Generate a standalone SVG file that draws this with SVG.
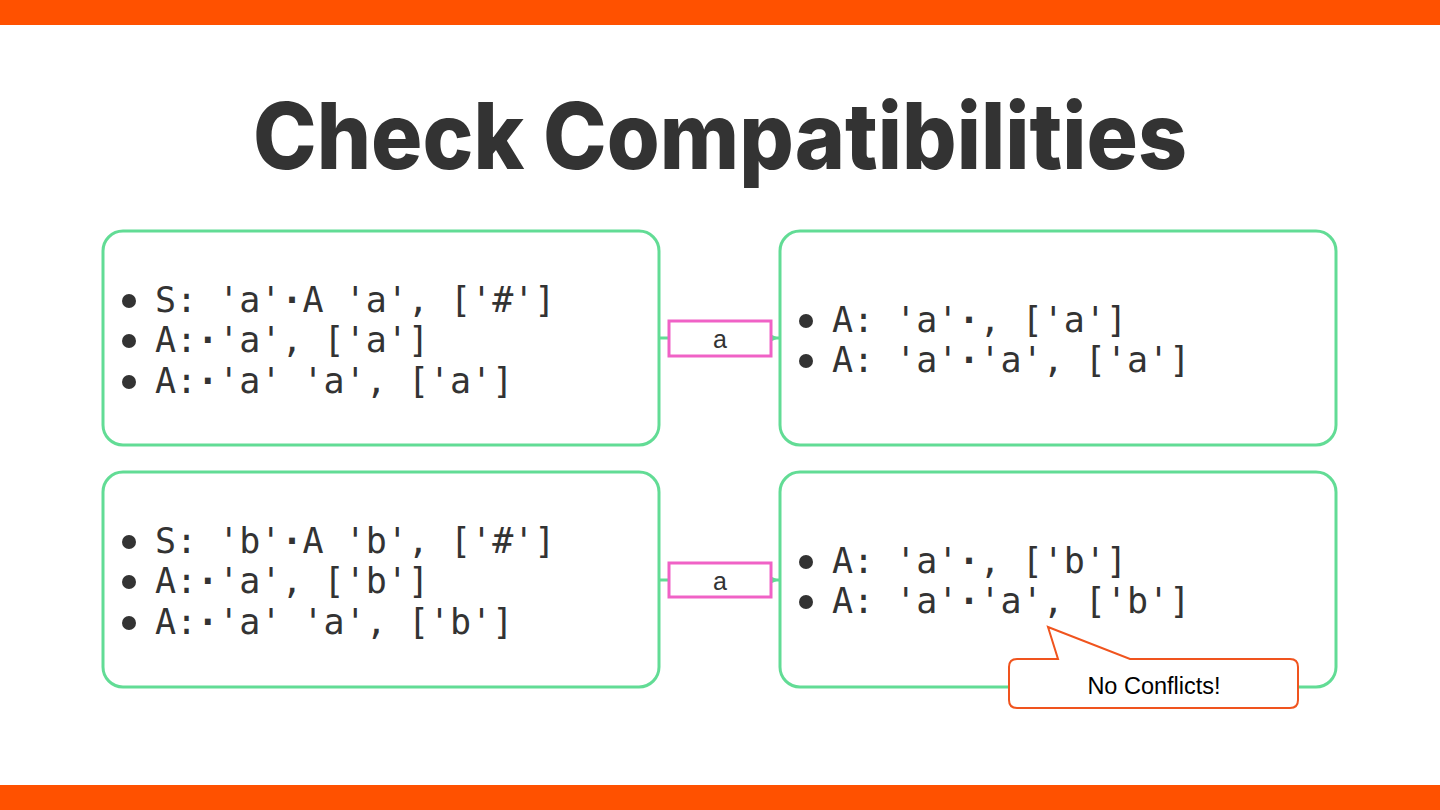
<svg xmlns="http://www.w3.org/2000/svg" width="1440" height="810" viewBox="0 0 1440 810">
<style>
.bar{fill:#ff5100}
.box{fill:#ffffff;stroke:#62dc95;stroke-width:3}
.code{font-family:"DejaVu Sans Mono","Liberation Mono",monospace;font-size:35px;fill:#333333}
.dot{font-weight:bold}
.bul{fill:#333333}
.edge{stroke:#62dc95;stroke-width:3;fill:none}
.lbl{fill:#ffffff;stroke:#f062c6;stroke-width:3}
.lbltxt{font-family:"Liberation Sans",Arial,sans-serif;font-size:25px;fill:#333333;text-anchor:middle}
.title{font-family:Inter,"Liberation Sans",sans-serif;font-weight:800;font-size:92px;fill:#333333;text-anchor:middle}
.call{fill:#ffffff;stroke:#f0541e;stroke-width:2}
.calltxt{font-family:"Liberation Sans",Arial,sans-serif;font-size:23.5px;fill:#000000;text-anchor:middle}
</style>
<defs>
<marker id="arr" markerWidth="8" markerHeight="8" refX="7" refY="4" orient="auto" markerUnits="userSpaceOnUse">
<path d="M0,1 L7,4 L0,7 Z" fill="#62dc95"/>
</marker>
</defs>
<rect class="bar" x="0" y="0" width="1440" height="25"/>
<rect class="bar" x="0" y="785" width="1440" height="25"/>
<text class="title" x="720" y="169" textLength="934" lengthAdjust="spacingAndGlyphs">Check Compatibilities</text>

<g id="connectors">
<line class="edge" x1="659" y1="338" x2="669" y2="338"/>
<line class="edge" x1="771" y1="338" x2="779" y2="338" marker-end="url(#arr)"/>
<line class="edge" x1="659" y1="580" x2="669" y2="580"/>
<line class="edge" x1="771" y1="580" x2="779" y2="580" marker-end="url(#arr)"/>
<g id="label-top">
<rect class="lbl" x="669" y="321" width="102" height="35"/>
<text class="lbltxt" x="720" y="348">a</text>
</g>
<g id="label-bottom">
<rect class="lbl" x="669" y="563" width="102" height="34"/>
<text class="lbltxt" x="720" y="590">a</text>
</g>
</g>

<g id="node-top-left">
<rect class="box" x="103" y="231" width="556" height="214" rx="20"/>
<circle class="bul" cx="129" cy="301" r="7"/>
<circle class="bul" cx="129" cy="341" r="7"/>
<circle class="bul" cx="129" cy="382" r="7"/>
<text class="code" x="155" y="312">S: 'a'<tspan class="dot">·</tspan>A 'a', ['#']</text>
<text class="code" x="155" y="352">A:<tspan class="dot">·</tspan>'a', ['a']</text>
<text class="code" x="155" y="393">A:<tspan class="dot">·</tspan>'a' 'a', ['a']</text>
</g>

<g id="node-top-right">
<rect class="box" x="780" y="231" width="556" height="214" rx="20"/>
<circle class="bul" cx="806" cy="321" r="7"/>
<circle class="bul" cx="806" cy="361" r="7"/>
<text class="code" x="832" y="332">A: 'a'<tspan class="dot">·</tspan>, ['a']</text>
<text class="code" x="832" y="372">A: 'a'<tspan class="dot">·</tspan>'a', ['a']</text>
</g>

<g id="node-bottom-left">
<rect class="box" x="103" y="472" width="556" height="215" rx="20"/>
<circle class="bul" cx="129" cy="542" r="7"/>
<circle class="bul" cx="129" cy="582" r="7"/>
<circle class="bul" cx="129" cy="623" r="7"/>
<text class="code" x="155" y="553">S: 'b'<tspan class="dot">·</tspan>A 'b', ['#']</text>
<text class="code" x="155" y="593">A:<tspan class="dot">·</tspan>'a', ['b']</text>
<text class="code" x="155" y="634">A:<tspan class="dot">·</tspan>'a' 'a', ['b']</text>
</g>

<g id="node-bottom-right">
<rect class="box" x="780" y="472" width="556" height="215" rx="20"/>
<circle class="bul" cx="806" cy="562" r="7"/>
<circle class="bul" cx="806" cy="602" r="7"/>
<text class="code" x="832" y="573">A: 'a'<tspan class="dot">·</tspan>, ['b']</text>
<text class="code" x="832" y="613">A: 'a'<tspan class="dot">·</tspan>'a', ['b']</text>
</g>

<g id="callout">
<path class="call" d="M1017,659 L1058,659 L1048,627 L1130,659 L1290,659 Q1298,659 1298,667 L1298,700 Q1298,708 1290,708 L1017,708 Q1009,708 1009,700 L1009,667 Q1009,659 1017,659 Z"/>
<text class="calltxt" x="1154" y="694">No Conflicts!</text>
</g>
</svg>
